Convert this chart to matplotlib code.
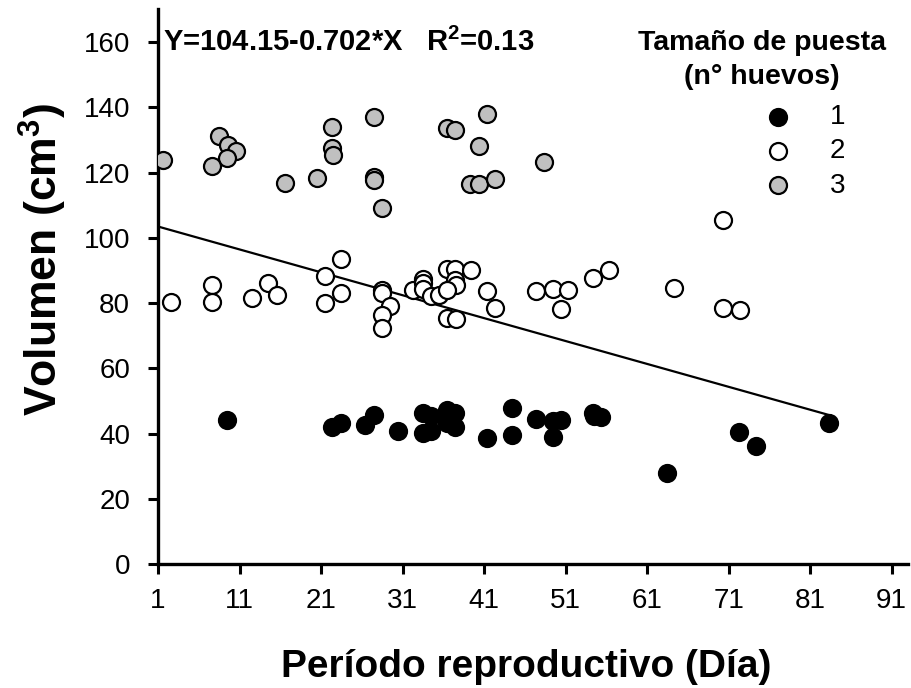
import matplotlib.pyplot as plt
import numpy as np

plt.rcParams['font.family'] = ['Liberation Sans', 'DejaVu Sans']
plt.rcParams['mathtext.fontset'] = 'custom'
plt.rcParams['mathtext.rm'] = 'Liberation Sans'
plt.rcParams['mathtext.bf'] = 'Liberation Sans:bold'

# tamaño de puesta = 1 huevo
x1 = [9.5, 22.4, 23.5, 26.4, 27.5, 30.5, 33.5, 34.5, 33.5, 34.5, 36.4, 37.4, 36.4, 37.4,
      41.4, 44.4, 44.4, 47.4, 49.4, 50.4, 49.4, 54.4, 54.5, 55.4, 63.4, 72.3, 74.3, 83.3]
y1 = [44.1, 42.1, 43.1, 42.6, 45.7, 40.9, 46.2, 45.4, 40.1, 40.8, 47.2, 46.4, 43.1, 42.1,
      38.5, 47.7, 39.5, 44.4, 43.8, 44.1, 39.0, 46.2, 45.4, 45.2, 27.8, 40.4, 36.2, 43.3]

# tamaño de puesta = 2 huevos
x2 = [2.6, 7.6, 7.6, 12.5, 14.5, 15.6, 21.5, 21.5, 23.5, 23.5, 28.5, 28.5, 29.5, 28.5,
      28.5, 32.3, 33.5, 33.5, 33.5, 34.5, 35.5, 36.4, 37.4, 37.4, 37.5, 36.4, 39.4, 36.4,
      37.5, 41.4, 42.4, 47.4, 49.4, 51.3, 50.4, 54.4, 56.3, 64.3, 70.3, 70.3, 72.4]
y2 = [80.4, 85.5, 80.4, 81.4, 86.0, 82.5, 88.3, 79.9, 93.4, 83.0, 84.0, 83.0, 79.1, 76.3,
      72.2, 84.0, 87.3, 86.0, 84.2, 82.1, 82.5, 90.3, 90.3, 87.0, 85.5, 84.0, 90.1, 75.3,
      75.0, 83.7, 78.4, 83.7, 84.3, 84.0, 78.1, 87.6, 90.1, 84.5, 105.4, 78.4, 77.9]

# tamaño de puesta = 3 huevos
x3 = [1.6, 8.5, 9.6, 10.6, 9.5, 7.6, 16.6, 20.5, 22.4, 22.4, 22.5, 27.5, 27.5, 27.5,
      28.5, 36.4, 37.4, 41.4, 40.4, 39.3, 40.4, 42.4, 48.4]
y3 = [123.8, 131.2, 128.4, 126.7, 124.6, 122.0, 116.9, 118.4, 134.0, 127.4, 125.4, 136.9,
      118.5, 117.7, 109.0, 133.5, 133.0, 137.8, 128.2, 116.4, 116.4, 118.1, 123.3]

# recta de regresión
a, b = 104.15, -0.702
x_fit = np.array([1, 83.5])

W, H = 912, 688
fig = plt.figure(figsize=(W/100, H/100), dpi=100)
ax = fig.add_axes([158/W, 124/H, 750/W, 554.6/H])

ax.plot(x_fit, a + b*x_fit, color='black', lw=1.6, zorder=2)

mk = dict(s=150, linewidths=1.6, edgecolors='black', zorder=3)
ax.scatter(x1, y1, c='black', label='1', **mk)
ax.scatter(x2, y2, c='white', label='2', **mk)
ax.scatter(x3, y3, c='#c0c0c0', label='3', **mk)

ax.set_xlim(1, 93)
ax.set_ylim(0, 170)
ax.set_xticks(np.arange(1, 92, 10))
ax.set_yticks(np.arange(0, 161, 20))
for s in ['top', 'right']:
    ax.spines[s].set_visible(False)
for s in ['left', 'bottom']:
    ax.spines[s].set_linewidth(2.4)
ax.tick_params(axis='both', direction='out', length=7, width=2.2, labelsize=20)
ax.tick_params(axis='x', pad=10.5)
ax.tick_params(axis='y', pad=13)

ax.text(1.6, 160, r'Y=104.15-0.702*X   R$^\mathbf{2}$=0.13', fontsize=21,
        fontweight='bold', va='center', ha='left')

# leyenda: título aparte, centrado sobre la columna
fig.text(762/W, 1 - 60/H, 'Tamaño de puesta\n(n° huevos)', fontsize=20.5,
         fontweight='bold', ha='center', va='center', multialignment='center',
         linespacing=1.35)
leg = ax.legend(loc='upper left', bbox_to_anchor=(764/W, 1 - 104/H),
                bbox_transform=fig.transFigure, frameon=False, fontsize=20,
                handlelength=1.0, handletextpad=1.37, labelspacing=0.3,
                borderpad=0, borderaxespad=0)

fig.text(43/W, 1 - 260/H, r'Volumen (cm$^\mathbf{3}$)', rotation=90, fontsize=32,
         fontweight='bold', ha='center', va='center')
fig.text(526/W, 1 - 677/H, 'Período reproductivo (Día)', fontsize=28,
         fontweight='bold', ha='center', va='baseline')

fig.savefig('out.png', dpi=100)
